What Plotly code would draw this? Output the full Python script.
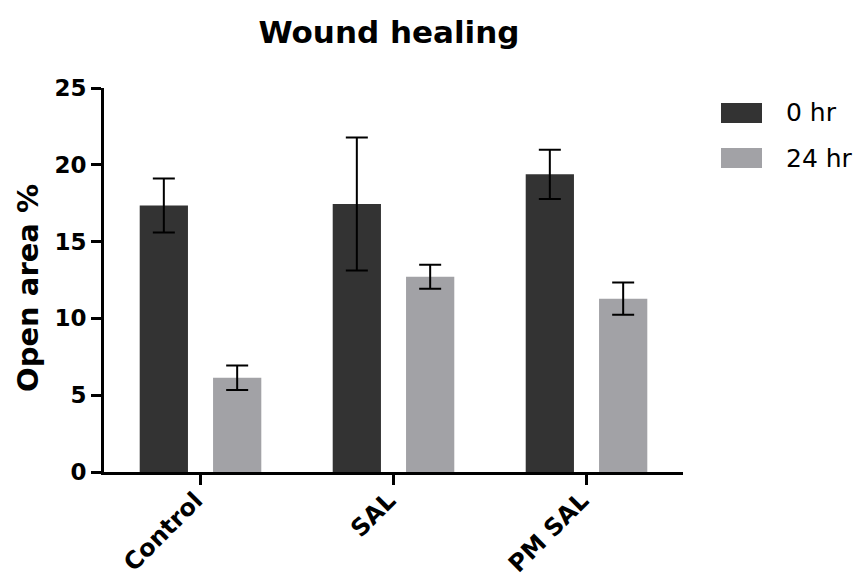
import plotly.graph_objects as go

# Wound closure: open area (%) at 0 h and 24 h for each treatment group
groups = ["Control", "SAL", "PM SAL"]
series_names = ["0 hr", "24 hr"]
open_area_0h = [17.35, 17.45, 19.38]
open_area_0h_err = [1.75, 4.33, 1.60]
open_area_24h = [6.14, 12.71, 11.28]
open_area_24h_err = [0.80, 0.78, 1.05]
y_ticks = [0, 5, 10, 15, 20, 25]

colors = ["#333333", "#a2a2a6"]
bar_width = 0.25
offsets = [-0.315, 0.065]

FONT = "DejaVu Sans"

# plot area in pixels
L, R, T, B = 104, 683, 88, 472
W, H = R - L, B - T


def px_x(x):
    return (x - L) / W


def px_y(y):
    return (B - y) / H


fig = go.Figure()
for name, vals, errs, col, off in zip(
    series_names,
    [open_area_0h, open_area_24h],
    [open_area_0h_err, open_area_24h_err],
    colors,
    offsets,
):
    fig.add_trace(
        go.Bar(
            x=groups,
            y=vals,
            name=name,
            width=bar_width,
            offset=off,
            marker=dict(color=col, line=dict(width=0)),
            error_y=dict(type="data", array=errs, visible=True,
                         color="black", thickness=2, width=11),
            showlegend=False,
        )
    )

# Legend drawn as swatches + labels on the right
legend_rows = [113, 158]
for name, col, yc in zip(series_names, colors, legend_rows):
    fig.add_shape(type="rect", xref="paper", yref="paper",
                  x0=px_x(721), x1=px_x(762),
                  y0=px_y(yc + 10), y1=px_y(yc - 10),
                  fillcolor=col, line=dict(width=0))
    fig.add_annotation(xref="paper", yref="paper",
                       x=px_x(784), y=px_y(yc), text=name,
                       showarrow=False, xanchor="left", yanchor="middle",
                       font=dict(family=FONT, size=25, color="black"))

# Y-axis title
fig.add_annotation(xref="paper", yref="paper",
                   x=px_x(28), y=px_y(288), text="<b>Open area %</b>",
                   textangle=-90, showarrow=False,
                   xanchor="center", yanchor="middle",
                   font=dict(family=FONT, size=29, color="black"))

fig.update_layout(
    width=864,
    height=581,
    margin=dict(l=L, r=864 - R, t=T, b=581 - B),
    paper_bgcolor="white",
    plot_bgcolor="white",
    barmode="overlay",
    title=dict(
        text="<b>Wound healing</b>",
        x=389 / 864, xanchor="center",
        yref="container", y=1 - 32 / 581, yanchor="middle",
        font=dict(family=FONT, size=31, color="black"),
    ),
    xaxis=dict(
        type="category",
        range=[-0.5, 2.5],
        automargin=False,
        showline=True, linecolor="black", linewidth=3,
        ticks="outside", ticklen=10, tickwidth=3, tickcolor="black",
        tickangle=-45,
        ticklabelstandoff=-8,
        ticklabelshift=-5,
        tickfont=dict(family=FONT, size=24, color="black", weight="bold"),
        showgrid=False, zeroline=False,
    ),
    yaxis=dict(
        range=[0, 25],
        tickvals=y_ticks,
        automargin=False,
        showline=True, linecolor="black", linewidth=3,
        ticks="outside", ticklen=10, tickwidth=3, tickcolor="black",
        tickfont=dict(family=FONT, size=23, color="black", weight="bold"),
        showgrid=False, zeroline=False,
    ),
)

fig.write_html("out.html")
